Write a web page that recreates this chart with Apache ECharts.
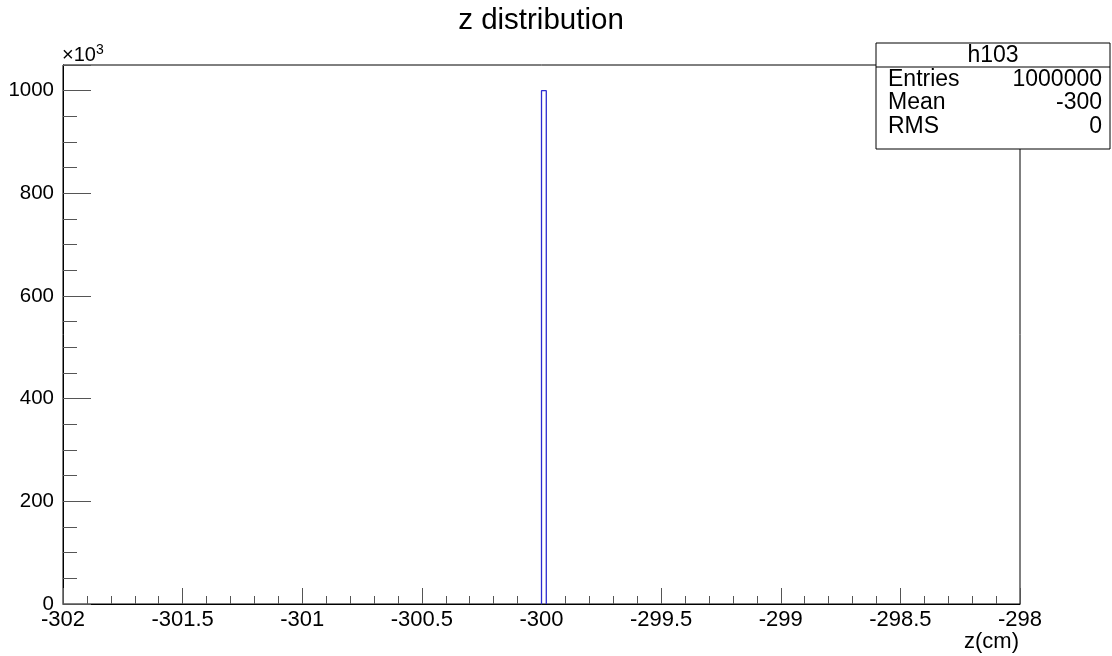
<!DOCTYPE html>
<html>
<head>
<meta charset="utf-8">
<script src="https://cdn.jsdelivr.net/npm/echarts@6/dist/echarts.min.js"></script>
<style>
  html, body { margin: 0; padding: 0; background: #fff; }
  #chart { width: 1112px; height: 656px; }
</style>
</head>
<body>
<div id="chart"></div>
<script>
// Histogram h103: z distribution, 200 bins on [-302, -298]; only one bin is filled
const histTitle = 'z distribution';
const histName = 'h103';
const xRange = [-302, -298];
const binWidth = 0.02;
const filledBinLow = [-300];          // lower edges of non-empty bins
const filledBinContent = [1000];      // contents in units of 10^3
const yMax = 1050;                    // 1.05 * maximum
const statNames = ['Entries', 'Mean', 'RMS'];
const statValues = ['1000000', '-300', '0'];
const xTitle = 'z(cm)';

const FONT = '"Liberation Sans", Arial, Helvetica, sans-serif';

// Step outline of the histogram built from the filled bins
const outline = [];
filledBinLow.forEach((lo, i) => {
  const hi = lo + binWidth;
  const c = filledBinContent[i];
  outline.push([lo, 0], [lo, c], [hi, c], [hi, 0]);
});

const chart = echarts.init(document.getElementById('chart'), null, { renderer: 'canvas' });

const grid = { left: 63, right: 92, top: 65, bottom: 52 };
const plotRight = 1112 - grid.right;

// Stats box geometry
const box = { x: 876, y: 43, w: 234, h: 106, head: 24 };
const rowH = 23.5;
const statFont = '23px ' + FONT;

const statGraphics = [
  { type: 'rect', shape: { x: box.x, y: box.y, width: box.w, height: box.h },
    style: { fill: '#fff', stroke: '#000', lineWidth: 1 }, z: 100 },
  { type: 'line', shape: { x1: box.x, y1: box.y + box.head, x2: box.x + box.w, y2: box.y + box.head },
    style: { stroke: '#000', lineWidth: 1 }, z: 101 },
  { type: 'text', x: box.x + box.w / 2, y: box.y + box.head / 2 + 1, z: 102,
    style: { text: histName, font: statFont, fill: '#000', align: 'center', verticalAlign: 'middle' } }
];
statNames.forEach((n, i) => {
  const cy = box.y + box.head + rowH * (i + 0.5) + 0.5;
  statGraphics.push(
    { type: 'text', x: box.x + 12, y: cy, z: 102,
      style: { text: n, font: statFont, fill: '#000', align: 'left', verticalAlign: 'middle' } },
    { type: 'text', x: box.x + box.w - 8, y: cy, z: 102,
      style: { text: statValues[i], font: statFont, fill: '#000', align: 'right', verticalAlign: 'middle' } }
  );
});

const option = {
  animation: false,
  backgroundColor: '#fff',
  grid: Object.assign({ show: true, borderColor: '#000', borderWidth: 1, backgroundColor: '#fff' }, grid),
  xAxis: {
    type: 'value',
    min: xRange[0],
    max: xRange[1],
    interval: 0.5,
    axisLine: { show: true, lineStyle: { color: '#000', width: 1 } },
    axisTick: { show: true, inside: true, length: 16, lineStyle: { color: '#555', width: 1 } },
    minorTick: { show: true, splitNumber: 5, length: 8, lineStyle: { color: '#555', width: 1 } },
    splitLine: { show: false },
    axisLabel: {
      margin: 5,
      fontFamily: FONT, fontSize: 22, color: '#000',
      showMinLabel: true, showMaxLabel: true,
      formatter: v => String(Math.round(v * 10) / 10)
    }
  },
  yAxis: [
    {
      type: 'value',
      min: 0,
      max: yMax,
      interval: 200,
      axisLine: { show: true, lineStyle: { color: '#000', width: 1 } },
      axisTick: { show: true, inside: true, length: 28, lineStyle: { color: '#555', width: 1 } },
      splitLine: { show: false },
      axisLabel: {
        margin: 9,
        fontFamily: FONT, fontSize: 20.5, color: '#000',
        formatter: v => (v % 200 === 0 ? String(v) : '')
      }
    },
    {
      // secondary axis carrying the short ticks every 50
      type: 'value',
      min: 0,
      max: yMax,
      interval: 50,
      position: 'left',
      axisLine: { show: false },
      axisTick: { show: true, inside: true, length: 14, lineStyle: { color: '#555', width: 1 } },
      splitLine: { show: false },
      axisLabel: { show: false }
    }
  ],
  series: [{
    type: 'line',
    data: outline,
    xAxisIndex: 0,
    yAxisIndex: 0,
    showSymbol: false,
    symbol: 'none',
    lineStyle: { color: '#2a2ad0', width: 1.3 },
    z: 5
  }],
  graphic: [
    { type: 'text', x: 541, y: 21,
      style: { text: histTitle, font: '29.5px ' + FONT, fill: '#000', align: 'center', verticalAlign: 'middle' } },
    // exponent of the y axis
    { type: 'text', x: 62, y: 65,
      style: {
        text: '{a|×10}{b|3}', align: 'left', verticalAlign: 'bottom',
        rich: {
          a: { fontFamily: FONT, fontSize: 20, fill: '#000', verticalAlign: 'bottom', lineHeight: 22 },
          b: { fontFamily: FONT, fontSize: 14, fill: '#000', verticalAlign: 'top', lineHeight: 22 }
        }
      } },
    // x axis title
    { type: 'text', x: plotRight - 1, y: 642,
      style: { text: xTitle, font: '22px ' + FONT, fill: '#000', align: 'right', verticalAlign: 'middle' } }
  ].concat(statGraphics)
};

chart.setOption(option);
</script>
</body>
</html>
